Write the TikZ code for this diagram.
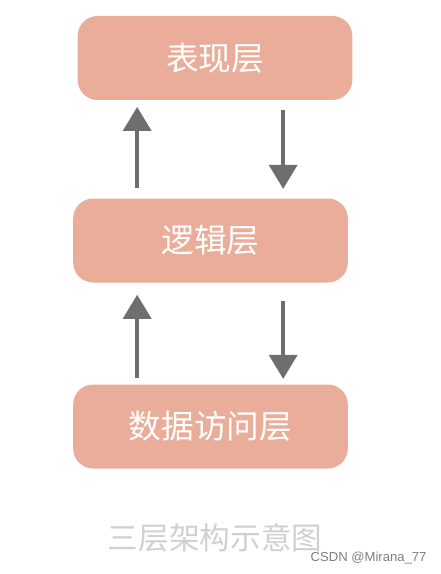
\documentclass[tikz,border=0pt]{standalone}
\usepackage{fontspec}
\newfontfamily\cjk{Noto Sans CJK SC}
\setsansfont{Liberation Sans}
\usetikzlibrary{arrows.meta,positioning,calc}
\definecolor{layerfill}{HTML}{EAAD9A}
\definecolor{arrowgray}{HTML}{6E6E6E}
\definecolor{captiongray}{HTML}{D0D0D0}
\begin{document}
\begin{tikzpicture}[
    x=0.75pt, y=-0.75pt,
    layer/.style={fill=layerfill, rounded corners=15pt, minimum width=206pt, minimum height=63pt, text=white, font=\cjk\fontsize{24.5}{25}\selectfont},
    flow/.style={draw=arrowgray, line width=2.6pt, -{Triangle[width=21pt,length=18pt]}},
    caption/.style={text=captiongray, font=\cjk\fontsize{23}{23}\selectfont},
    watermark/.style={text=black!50, font=\sffamily\fontsize{9.8}{10}\selectfont, anchor=west}
]
\useasboundingbox (0,0) rectangle (440,574);
\node[layer] (pres) at (215,58) {表现层};
\node[layer] (logic) at (210.5,240.5) {逻辑层};
\node[layer] (data) at (210.5,426.5) {数据访问层};
% arrows between the layers
\draw[flow, shorten <=7.5pt, shorten >=5pt] ([xshift=-55pt]logic.north) -- ([xshift=-55pt]logic.north |- pres.south);
\draw[flow, shorten <=7.5pt, shorten >=7pt] ([xshift=54.5pt]logic.north |- pres.south) -- ([xshift=54.5pt]logic.north);
\draw[flow, shorten <=5pt, shorten >=9pt] ([xshift=-55pt]data.north) -- ([xshift=-55pt]logic.south);
\draw[flow, shorten <=14pt, shorten >=4pt] ([xshift=54.5pt]logic.south) -- ([xshift=54.5pt]data.north);
\node[caption] (title) at (215,538) {三层架构示意图};
\node[watermark] (wm) at (306,558) {CSDN @Mirana\_77};
\end{tikzpicture}
\end{document}
